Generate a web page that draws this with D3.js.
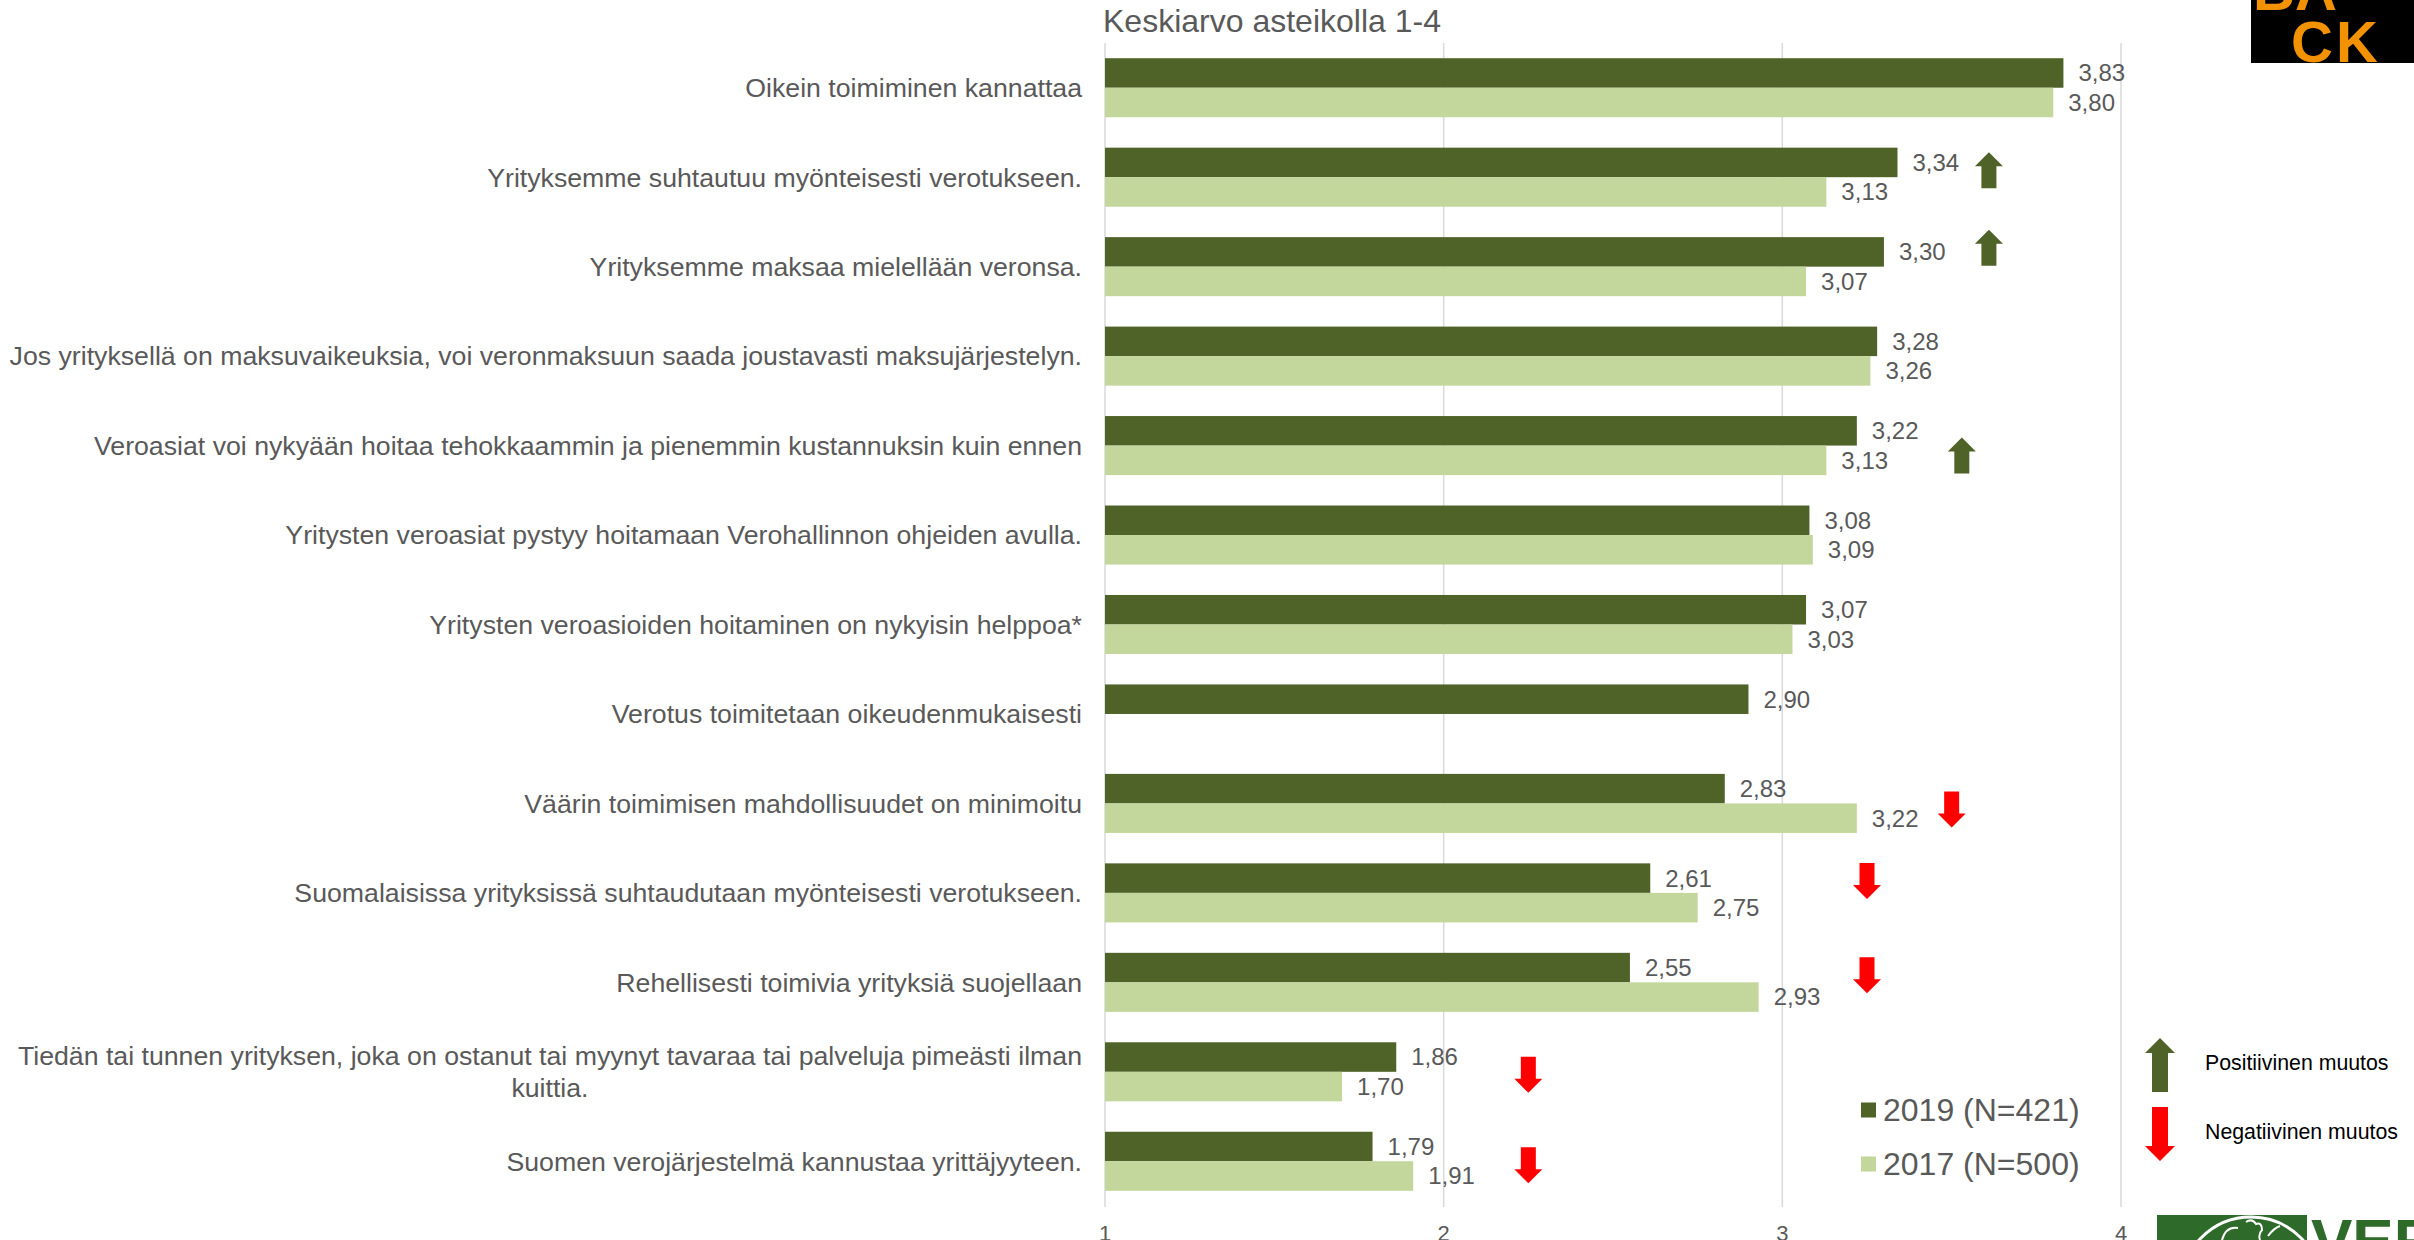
<html>
<meta charset="UTF-8">
<head>
<title>Keskiarvo asteikolla 1-4</title>
<script src="https://d3js.org/d3.v7.min.js"></script>
<style>
body { margin: 0; background: #fff; }
text { font-family: "Liberation Sans", Arial, sans-serif; }
</style>
</head>
<body>
<div id="chart"></div>
<script>
// category labels, top to bottom
var categories = [
  'Oikein toimiminen kannattaa',
  'Yrityksemme suhtautuu myönteisesti verotukseen.',
  'Yrityksemme maksaa mielellään veronsa.',
  'Jos yrityksellä on maksuvaikeuksia, voi veronmaksuun saada joustavasti maksujärjestelyn.',
  'Veroasiat voi nykyään hoitaa tehokkaammin ja pienemmin kustannuksin kuin ennen',
  'Yritysten veroasiat pystyy hoitamaan Verohallinnon ohjeiden avulla.',
  'Yritysten veroasioiden hoitaminen on nykyisin helppoa*',
  'Verotus toimitetaan oikeudenmukaisesti',
  'Väärin toimimisen mahdollisuudet on minimoitu',
  'Suomalaisissa yrityksissä suhtaudutaan myönteisesti verotukseen.',
  'Rehellisesti toimivia yrityksiä suojellaan',
  'Tiedän tai tunnen yrityksen, joka on ostanut tai myynyt tavaraa tai palveluja pimeästi ilman kuittia.',
  'Suomen verojärjestelmä kannustaa yrittäjyyteen.'
];
var values2019 = [3.83, 3.34, 3.30, 3.28, 3.22, 3.08, 3.07, 2.90, 2.83, 2.61, 2.55, 1.86, 1.79];
var values2017 = [3.80, 3.13, 3.07, 3.26, 3.13, 3.09, 3.03, null, 3.22, 2.75, 2.93, 1.70, 1.91];
var seriesNames = ['2019 (N=421)', '2017 (N=500)'];
var tickValues = [1, 2, 3, 4];
var title = 'Keskiarvo asteikolla 1-4';

// change markers: category index, direction, position on the value axis
var changeArrows = [
  {cat: 1, dir: 'up', at: 3.61, dy: -7},
  {cat: 2, dir: 'up', at: 3.61, dy: -19},
  {cat: 4, dir: 'up', at: 3.53, dy: 10},
  {cat: 8, dir: 'down', at: 3.50, dy: 6},
  {cat: 9, dir: 'down', at: 3.25, dy: -12},
  {cat: 10, dir: 'down', at: 3.25, dy: -7},
  {cat: 11, dir: 'down', at: 2.25, dy: 3},
  {cat: 12, dir: 'down', at: 2.25, dy: 4}
];
var arrowLegend = [
  {dir: 'up', label: 'Positiivinen muutos'},
  {dir: 'down', label: 'Negatiivinen muutos'}
];

var W = 2414, H = 1240;
var colors = {'2019': '#4F6228', '2017': '#C3D69B'};
var textCol = '#595959';

var svg = d3.select('#chart').append('svg')
  .attr('width', W).attr('height', H);

var x = d3.scaleLinear().domain([1, 4]).range([1105, 2121]);
var y = d3.scaleBand().domain(d3.range(categories.length))
  .range([43, 1206]).paddingInner(0.34).paddingOuter(0.17);
var ySub = d3.scaleBand().domain(['2019', '2017']).range([0, y.bandwidth()]);

// gridlines
svg.append('g').selectAll('line').data(tickValues).enter().append('line')
  .attr('x1', function(d){ return x(d); }).attr('x2', function(d){ return x(d); })
  .attr('y1', 43).attr('y2', 1207)
  .attr('stroke', '#D9D9D9').attr('stroke-width', 1.5);

// tick labels (cropped by the bottom edge, as in the original)
svg.append('g').selectAll('text').data(tickValues).enter().append('text')
  .attr('x', function(d){ return x(d); }).attr('y', 1241)
  .attr('text-anchor', 'middle').attr('font-size', 22).attr('fill', textCol)
  .text(function(d){ return d; });

// title
svg.append('text').attr('x', 1103).attr('y', 32)
  .attr('font-size', 32).attr('fill', textCol).text(title);

var rows = categories.map(function(c, i){
  return {i: i, name: c, v: {'2019': values2019[i], '2017': values2017[i]}};
});
var fmt = function(v){ return v.toFixed(2).replace('.', ','); };

var g = svg.append('g').selectAll('g').data(rows).enter().append('g')
  .attr('transform', function(d){ return 'translate(0,' + y(d.i) + ')'; });

['2019', '2017'].forEach(function(s){
  var sub = g.filter(function(d){ return d.v[s] != null; });
  sub.append('rect')
    .attr('x', x(1)).attr('y', ySub(s))
    .attr('width', function(d){ return x(d.v[s]) - x(1); })
    .attr('height', ySub.bandwidth())
    .attr('fill', colors[s]);
  sub.append('text')
    .attr('x', function(d){ return x(d.v[s]) + 15; })
    .attr('y', ySub(s) + ySub.bandwidth() / 2)
    .attr('dy', '0.35em')
    .attr('font-size', 24).attr('fill', textCol)
    .text(function(d){ return fmt(d.v[s]); });
});

// category labels, wrapped and centred like the office chart
var labelRight = 1082, maxW = 1110, lineH = 32;
g.each(function(d){
  var t = d3.select(this).append('text')
    .attr('font-size', 26.7).attr('fill', textCol);
  var words = d.name.split(' '), lines = [], cur = [];
  var probe = t.append('tspan');
  words.forEach(function(w){
    cur.push(w);
    probe.text(cur.join(' '));
    if (probe.node().getComputedTextLength() > maxW && cur.length > 1) {
      cur.pop(); lines.push(cur.join(' ')); cur = [w];
    }
  });
  lines.push(cur.join(' '));
  probe.remove();
  var mid = y.bandwidth() / 2;
  if (lines.length === 1) {
    t.attr('text-anchor', 'end').attr('x', labelRight).attr('y', mid).attr('dy', '0.35em')
      .text(lines[0]);
  } else {
    var spans = lines.map(function(l){ return t.append('tspan').text(l); });
    var widest = d3.max(spans, function(s){ return s.node().getComputedTextLength(); });
    var cx = labelRight - widest / 2;
    t.attr('text-anchor', 'middle');
    spans.forEach(function(s, k){
      s.attr('x', cx).attr('y', mid + (k - (lines.length - 1) / 2) * lineH).attr('dy', '0.35em');
    });
  }
});

// arrow shape
function arrowPath(cx, top, w, h, shaft, head, dir) {
  var s = shaft / 2, hw = w / 2;
  if (dir === 'up') {
    return 'M' + cx + ',' + top + 'L' + (cx + hw) + ',' + (top + head) + 'L' + (cx + s) + ',' + (top + head) +
      'L' + (cx + s) + ',' + (top + h) + 'L' + (cx - s) + ',' + (top + h) + 'L' + (cx - s) + ',' + (top + head) +
      'L' + (cx - hw) + ',' + (top + head) + 'Z';
  }
  var b = top + h;
  return 'M' + cx + ',' + b + 'L' + (cx + hw) + ',' + (b - head) + 'L' + (cx + s) + ',' + (b - head) +
    'L' + (cx + s) + ',' + top + 'L' + (cx - s) + ',' + top + 'L' + (cx - s) + ',' + (b - head) +
    'L' + (cx - hw) + ',' + (b - head) + 'Z';
}
var arrowCol = {up: '#4F6228', down: '#FF0000'};

svg.append('g').selectAll('path').data(changeArrows).enter().append('path')
  .attr('d', function(d){
    var cy = y(d.cat) + y.bandwidth() / 2 + d.dy;
    return arrowPath(x(d.at), cy - 18, 28, 36, 15, 14, d.dir);
  })
  .attr('fill', function(d){ return arrowCol[d.dir]; });

// series legend
var leg = svg.append('g').selectAll('g').data(seriesNames).enter().append('g')
  .attr('transform', function(d, i){ return 'translate(1861,' + (1110 + i * 54) + ')'; });
leg.append('rect').attr('x', 0).attr('y', -7.5).attr('width', 15).attr('height', 15)
  .attr('fill', function(d, i){ return i === 0 ? colors['2019'] : colors['2017']; });
leg.append('text').attr('x', 22).attr('dy', '0.35em')
  .attr('font-size', 32).attr('fill', textCol).text(function(d){ return d; });

// arrow legend
var aleg = svg.append('g').selectAll('g').data(arrowLegend).enter().append('g')
  .attr('transform', function(d, i){ return 'translate(0,' + (i * 69) + ')'; });
aleg.append('path')
  .attr('d', function(d){ return arrowPath(2160, 1038, 30, 54, 16, 15, d.dir); })
  .attr('fill', function(d){ return arrowCol[d.dir]; });
aleg.append('text').attr('x', 2205).attr('y', 1063).attr('dy', '0.35em')
  .attr('font-size', 21.3).attr('fill', '#000').text(function(d){ return d.label; });

// corner logos (cropped in the original picture)
var logo = svg.append('g');
logo.append('rect').attr('x', 2251).attr('y', 0).attr('width', 163).attr('height', 63).attr('fill', '#000');
logo.append('text').attr('x', 2253).attr('y', 10).attr('font-size', 58).attr('font-weight', 'bold')
  .attr('fill', '#F39200').text('BA');
logo.append('text').attr('x', 2291).attr('y', 62).attr('font-size', 58).attr('font-weight', 'bold')
  .attr('fill', '#F39200').attr('letter-spacing', 3).text('CK');

var vero = svg.append('g');
vero.append('rect').attr('x', 2157).attr('y', 1215).attr('width', 150).attr('height', 30).attr('fill', '#2E6B2A');
vero.append('circle').attr('cx', 2251).attr('cy', 1287).attr('r', 70)
  .attr('fill', 'none').attr('stroke', '#fff').attr('stroke-width', 3);
vero.append('path').attr('d', 'M2222,1240 Q2226,1226 2238,1228 M2246,1222 q6,-4 10,2 q6,-2 6,6 q-4,4 -2,10 M2268,1236 q6,-8 12,-10')
  .attr('fill', 'none').attr('stroke', '#fff').attr('stroke-width', 2);
vero.append('text').attr('x', 2311).attr('y', 1262).attr('font-size', 62).attr('font-weight', 'bold')
  .attr('fill', '#2E6B2A').text('VERO');
</script>
</body>
</html>
